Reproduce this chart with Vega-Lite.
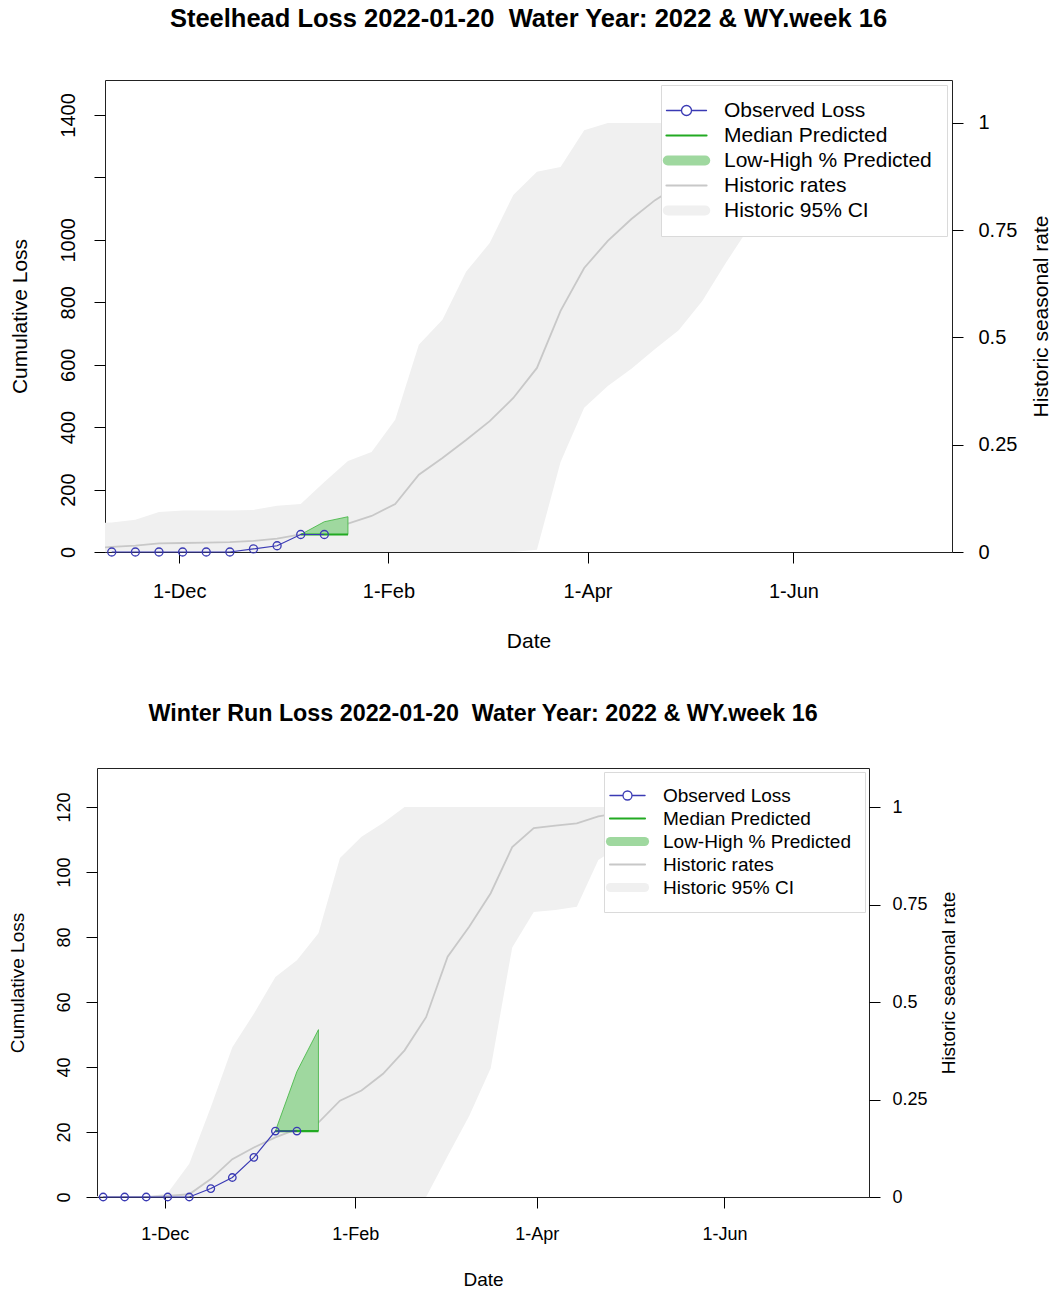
{
  "$schema": "https://vega.github.io/schema/vega-lite/v6.json",
  "padding": {"left": 1, "top": 6, "right": 0, "bottom": 0},
  "spacing": 49,
  "datasets": {
    "steel_obs": [
      {"date": "2021-11-11", "loss": 0}, {"date": "2021-11-18", "loss": 0}, {"date": "2021-11-25", "loss": 0},
      {"date": "2021-12-02", "loss": 0}, {"date": "2021-12-09", "loss": 0}, {"date": "2021-12-16", "loss": 0},
      {"date": "2021-12-23", "loss": 10}, {"date": "2021-12-30", "loss": 20}, {"date": "2022-01-06", "loss": 56},
      {"date": "2022-01-13", "loss": 56}
    ],
    "steel_pred": [
      {"date": "2022-01-06", "median": 56, "low": 56, "high": 56},
      {"date": "2022-01-13", "median": 56, "low": 56, "high": 97},
      {"date": "2022-01-20", "median": 56, "low": 56, "high": 113}
    ],
    "steel_hist": [
      {"date": "2021-11-04", "rate": 0.008, "lo": 0, "hi": 0.066},
      {"date": "2021-11-11", "rate": 0.012, "lo": 0, "hi": 0.069},
      {"date": "2021-11-18", "rate": 0.015, "lo": 0, "hi": 0.075},
      {"date": "2021-11-25", "rate": 0.02, "lo": 0, "hi": 0.093},
      {"date": "2021-12-02", "rate": 0.021, "lo": 0, "hi": 0.097},
      {"date": "2021-12-09", "rate": 0.022, "lo": 0, "hi": 0.097},
      {"date": "2021-12-16", "rate": 0.023, "lo": 0, "hi": 0.097},
      {"date": "2021-12-23", "rate": 0.026, "lo": 0, "hi": 0.098},
      {"date": "2021-12-30", "rate": 0.031, "lo": 0, "hi": 0.108},
      {"date": "2022-01-06", "rate": 0.041, "lo": 0, "hi": 0.112},
      {"date": "2022-01-13", "rate": 0.055, "lo": 0, "hi": 0.163},
      {"date": "2022-01-20", "rate": 0.066, "lo": 0, "hi": 0.212},
      {"date": "2022-01-27", "rate": 0.084, "lo": 0, "hi": 0.233},
      {"date": "2022-02-03", "rate": 0.112, "lo": 0, "hi": 0.308},
      {"date": "2022-02-10", "rate": 0.18, "lo": 0, "hi": 0.483},
      {"date": "2022-02-17", "rate": 0.219, "lo": 0, "hi": 0.541},
      {"date": "2022-02-24", "rate": 0.261, "lo": 0, "hi": 0.653},
      {"date": "2022-03-03", "rate": 0.305, "lo": 0, "hi": 0.72},
      {"date": "2022-03-10", "rate": 0.359, "lo": 0, "hi": 0.832},
      {"date": "2022-03-17", "rate": 0.429, "lo": 0.005, "hi": 0.886},
      {"date": "2022-03-24", "rate": 0.562, "lo": 0.21, "hi": 0.897},
      {"date": "2022-03-31", "rate": 0.662, "lo": 0.336, "hi": 0.983},
      {"date": "2022-04-07", "rate": 0.725, "lo": 0.387, "hi": 1},
      {"date": "2022-04-14", "rate": 0.776, "lo": 0.427, "hi": 1},
      {"date": "2022-04-21", "rate": 0.82, "lo": 0.473, "hi": 1},
      {"date": "2022-04-28", "rate": 0.855, "lo": 0.517, "hi": 1},
      {"date": "2022-05-05", "rate": 0.885, "lo": 0.585, "hi": 1},
      {"date": "2022-05-12", "rate": 0.91, "lo": 0.674, "hi": 1},
      {"date": "2022-05-19", "rate": 0.93, "lo": 0.758, "hi": 1},
      {"date": "2022-05-26", "rate": 0.95, "lo": 0.82, "hi": 1},
      {"date": "2022-06-02", "rate": 0.965, "lo": 0.87, "hi": 1},
      {"date": "2022-06-09", "rate": 0.975, "lo": 0.91, "hi": 1},
      {"date": "2022-06-16", "rate": 0.985, "lo": 0.94, "hi": 1},
      {"date": "2022-06-23", "rate": 0.99, "lo": 0.96, "hi": 1},
      {"date": "2022-06-30", "rate": 0.995, "lo": 0.98, "hi": 1},
      {"date": "2022-07-07", "rate": 1, "lo": 0.99, "hi": 1},
      {"date": "2022-07-14", "rate": 1, "lo": 1, "hi": 1}
    ],
    "wr_obs": [
      {"date": "2021-11-11", "loss": 0}, {"date": "2021-11-18", "loss": 0}, {"date": "2021-11-25", "loss": 0},
      {"date": "2021-12-02", "loss": 0}, {"date": "2021-12-09", "loss": 0}, {"date": "2021-12-16", "loss": 2.6},
      {"date": "2021-12-23", "loss": 6}, {"date": "2021-12-30", "loss": 12.2}, {"date": "2022-01-06", "loss": 20.3},
      {"date": "2022-01-13", "loss": 20.3}
    ],
    "wr_pred": [
      {"date": "2022-01-06", "median": 20.3, "low": 20.3, "high": 20.3},
      {"date": "2022-01-13", "median": 20.3, "low": 20.3, "high": 38.6},
      {"date": "2022-01-20", "median": 20.3, "low": 20.3, "high": 51.5}
    ],
    "wr_hist": [
      {"date": "2021-11-04", "rate": 0, "lo": 0, "hi": 0},
      {"date": "2021-11-11", "rate": 0, "lo": 0, "hi": 0},
      {"date": "2021-11-18", "rate": 0, "lo": 0, "hi": 0},
      {"date": "2021-11-25", "rate": 0, "lo": 0, "hi": 0},
      {"date": "2021-12-02", "rate": 0.003, "lo": 0, "hi": 0.01},
      {"date": "2021-12-09", "rate": 0.007, "lo": 0, "hi": 0.085},
      {"date": "2021-12-16", "rate": 0.046, "lo": 0, "hi": 0.23},
      {"date": "2021-12-23", "rate": 0.097, "lo": 0, "hi": 0.384},
      {"date": "2021-12-30", "rate": 0.127, "lo": 0, "hi": 0.47},
      {"date": "2022-01-06", "rate": 0.153, "lo": 0, "hi": 0.564},
      {"date": "2022-01-13", "rate": 0.174, "lo": 0, "hi": 0.607},
      {"date": "2022-01-20", "rate": 0.191, "lo": 0, "hi": 0.676},
      {"date": "2022-01-27", "rate": 0.247, "lo": 0, "hi": 0.869},
      {"date": "2022-02-03", "rate": 0.273, "lo": 0, "hi": 0.924},
      {"date": "2022-02-10", "rate": 0.316, "lo": 0, "hi": 0.959},
      {"date": "2022-02-17", "rate": 0.376, "lo": 0, "hi": 1},
      {"date": "2022-02-24", "rate": 0.461, "lo": 0, "hi": 1},
      {"date": "2022-03-03", "rate": 0.616, "lo": 0.105, "hi": 1},
      {"date": "2022-03-10", "rate": 0.693, "lo": 0.208, "hi": 1},
      {"date": "2022-03-17", "rate": 0.779, "lo": 0.33, "hi": 1},
      {"date": "2022-03-24", "rate": 0.897, "lo": 0.64, "hi": 1},
      {"date": "2022-03-31", "rate": 0.946, "lo": 0.731, "hi": 1},
      {"date": "2022-04-07", "rate": 0.952, "lo": 0.736, "hi": 1},
      {"date": "2022-04-14", "rate": 0.958, "lo": 0.744, "hi": 1},
      {"date": "2022-04-21", "rate": 0.976, "lo": 0.864, "hi": 1},
      {"date": "2022-04-28", "rate": 0.985, "lo": 0.9, "hi": 1},
      {"date": "2022-05-05", "rate": 0.99, "lo": 0.93, "hi": 1},
      {"date": "2022-05-12", "rate": 0.995, "lo": 0.95, "hi": 1},
      {"date": "2022-05-19", "rate": 1, "lo": 0.97, "hi": 1},
      {"date": "2022-05-26", "rate": 1, "lo": 0.98, "hi": 1},
      {"date": "2022-06-02", "rate": 1, "lo": 0.99, "hi": 1},
      {"date": "2022-06-09", "rate": 1, "lo": 1, "hi": 1},
      {"date": "2022-06-16", "rate": 1, "lo": 1, "hi": 1},
      {"date": "2022-06-23", "rate": 1, "lo": 1, "hi": 1},
      {"date": "2022-06-30", "rate": 1, "lo": 1, "hi": 1},
      {"date": "2022-07-07", "rate": 1, "lo": 1, "hi": 1},
      {"date": "2022-07-14", "rate": 1, "lo": 1, "hi": 1}
    ],
    "spacer": [{"v": 0}]
  },
  "vconcat": [
    {
      "spacing": 0,
      "resolve": {"scale": {"color": "independent"}, "legend": {"color": "independent"}},
      "hconcat": [
        {"width": 1, "height": 1, "view": {"stroke": null}, "data": {"name": "spacer"}, "mark": {"type": "point", "opacity": 0}, "encoding": {}},
        {
          "title": {"text": "Steelhead Loss 2022-01-20\u00a0 Water Year: 2022 & WY.week 16", "fontSize": 25.5, "offset": 48},
          "width": 847,
          "height": 472,
          "encoding": {
            "x": {
              "field": "date", "type": "temporal",
              "scale": {"type": "utc", "domain": [{"year": 2021, "month": 11, "date": 9, "utc": true}, {"year": 2022, "month": 7, "date": 18, "utc": true}]},
              "axis": {
                "title": "Date", "format": "%-d-%b",
                "values": [{"year": 2021, "month": 12, "date": 1, "utc": true}, {"year": 2022, "month": 2, "date": 1, "utc": true}, {"year": 2022, "month": 4, "date": 1, "utc": true}, {"year": 2022, "month": 6, "date": 1, "utc": true}],
                "labelFontSize": 20, "titleFontSize": 21, "labelPadding": 18, "titlePadding": 29, "labelFlush": false
              }
            }
          },
          "layer": [
            {
              "data": {"name": "steel_hist"},
              "layer": [
                {
                  "mark": {"type": "area", "clip": true},
                  "encoding": {
                    "y": {"field": "lo", "type": "quantitative", "scale": {"domain": [0, 1.1], "nice": false, "zero": false},
                      "axis": {"orient": "right", "title": "Historic seasonal rate", "values": [0, 0.25, 0.5, 0.75, 1], "format": "~g",
                        "labelAngle": 0, "labelAlign": "left", "labelBaseline": "middle", "labelFontSize": 20, "labelPadding": 15,
                        "titleAngle": 270, "titleBaseline": "top", "titleFontSize": 21, "titlePadding": 14}},
                    "y2": {"field": "hi"},
                    "color": {
                      "datum": "Historic 95% CI",
                      "scale": {"domain": ["Observed Loss", "Median Predicted", "Low-High % Predicted", "Historic rates", "Historic 95% CI"], "range": ["#3a3ab4", "#22aa22", "#9fd89f", "#c8c8c8", "#f0f0f0"]},
                      "legend": {
                        "title": null, "orient": "top-right", "offset": 5, "padding": 15,
                        "fillColor": "white", "strokeColor": "#dadada", "labelLimit": 0,
                        "labelFontSize": 21, "labelOffset": 27, "symbolOffset": 0, "rowPadding": 3, "symbolSize": 100,
                        "encode": {"symbols": {"update": {
                          "shape": {"signal": "datum.value === 'Observed Loss' ? 'M-4,0H-1M1,0H4M-1,0A1,1 0 1,0 1,0A1,1 0 1,0 -1,0' : (datum.value === 'Low-High % Predicted' || datum.value === 'Historic 95% CI') ? 'M-3.74,0H3.74' : 'M-4,0H4'"},
                          "strokeWidth": {"signal": "(datum.value === 'Low-High % Predicted' || datum.value === 'Historic 95% CI') ? 10 : datum.value === 'Observed Loss' ? 1.3 : 2.2"},
                          "strokeCap": {"value": "round"},
                          "strokeJoin": {"value": "round"},
                          "fillOpacity": {"value": 0},
                          "size": {"value": 100}
                        }}}
                      }
                    }
                  }
                },
                {
                  "mark": {"type": "line", "clip": true, "strokeWidth": 1.8},
                  "encoding": {
                    "y": {"field": "rate", "type": "quantitative"},
                    "color": {"datum": "Historic rates"}
                  }
                }
              ]
            },
            {
              "layer": [
                {
                  "data": {"name": "steel_pred"},
                  "mark": {"type": "area", "stroke": "#3cb43c", "strokeWidth": 0.8},
                  "encoding": {
                    "y": {"field": "low", "type": "quantitative", "scale": {"domain": [0, 1512], "nice": false, "zero": false},
                      "axis": {"orient": "left", "title": "Cumulative Loss", "values": [0, 200, 400, 600, 800, 1000, 1200, 1400], "format": "d",
                        "labelExpr": "datum.value == 1200 ? '' : datum.label",
                        "labelAngle": 270, "labelAlign": "center", "labelBaseline": "alphabetic", "labelFontSize": 20, "labelPadding": 20,
                        "titleFontSize": 21, "titlePadding": 28}},
                    "y2": {"field": "high"},
                    "color": {"datum": "Low-High % Predicted"}
                  }
                },
                {
                  "data": {"name": "steel_pred"},
                  "mark": {"type": "line", "strokeWidth": 2.2},
                  "encoding": {
                    "y": {"field": "median", "type": "quantitative"},
                    "color": {"datum": "Median Predicted"}
                  }
                },
                {
                  "data": {"name": "steel_obs"},
                  "mark": {"type": "line", "strokeWidth": 1.2, "point": {"filled": false, "size": 64, "strokeWidth": 1.3}},
                  "encoding": {
                    "y": {"field": "loss", "type": "quantitative"},
                    "color": {"datum": "Observed Loss"}
                  }
                }
              ]
            }
          ],
          "resolve": {"scale": {"y": "independent"}}
        }
      ]
    },
    {
      "spacing": -1,
      "resolve": {"scale": {"color": "independent"}, "legend": {"color": "independent"}},
      "hconcat": [
        {"width": 1, "height": 1, "view": {"stroke": null}, "data": {"name": "spacer"}, "mark": {"type": "point", "opacity": 0}, "encoding": {}},
        {
          "title": {"text": "Winter Run Loss 2022-01-20\u00a0 Water Year: 2022 & WY.week 16", "fontSize": 23.3, "offset": 42},
          "width": 772,
          "height": 429,
          "encoding": {
            "x": {
              "field": "date", "type": "temporal",
              "scale": {"type": "utc", "domain": [{"year": 2021, "month": 11, "date": 9, "utc": true}, {"year": 2022, "month": 7, "date": 18, "utc": true}]},
              "axis": {
                "title": "Date", "format": "%-d-%b",
                "values": [{"year": 2021, "month": 12, "date": 1, "utc": true}, {"year": 2022, "month": 2, "date": 1, "utc": true}, {"year": 2022, "month": 4, "date": 1, "utc": true}, {"year": 2022, "month": 6, "date": 1, "utc": true}],
                "labelFontSize": 18, "titleFontSize": 19, "labelPadding": 17, "titlePadding": 27, "labelFlush": false
              }
            }
          },
          "layer": [
            {
              "data": {"name": "wr_hist"},
              "layer": [
                {
                  "mark": {"type": "area", "clip": true},
                  "encoding": {
                    "y": {"field": "lo", "type": "quantitative", "scale": {"domain": [0, 1.1], "nice": false, "zero": false},
                      "axis": {"orient": "right", "title": "Historic seasonal rate", "values": [0, 0.25, 0.5, 0.75, 1], "format": "~g",
                        "labelAngle": 0, "labelAlign": "left", "labelBaseline": "middle", "labelFontSize": 18, "labelPadding": 12,
                        "titleAngle": 270, "titleBaseline": "top", "titleFontSize": 19, "titlePadding": 12}},
                    "y2": {"field": "hi"},
                    "color": {
                      "datum": "Historic 95% CI",
                      "scale": {"domain": ["Observed Loss", "Median Predicted", "Low-High % Predicted", "Historic rates", "Historic 95% CI"], "range": ["#3a3ab4", "#22aa22", "#9fd89f", "#c8c8c8", "#f0f0f0"]},
                      "legend": {
                        "title": null, "orient": "top-right", "offset": 4, "padding": 14,
                        "fillColor": "white", "strokeColor": "#dadada", "labelLimit": 0,
                        "labelFontSize": 19, "labelOffset": 26, "symbolOffset": 0, "rowPadding": 3, "symbolSize": 81,
                        "encode": {"symbols": {"update": {
                          "shape": {"signal": "datum.value === 'Observed Loss' ? 'M-3.9,0H-1M1,0H3.9M-1,0A1,1 0 1,0 1,0A1,1 0 1,0 -1,0' : (datum.value === 'Low-High % Predicted' || datum.value === 'Historic 95% CI') ? 'M-3.8,0H3.8' : 'M-3.9,0H3.9'"},
                          "strokeWidth": {"signal": "(datum.value === 'Low-High % Predicted' || datum.value === 'Historic 95% CI') ? 9 : datum.value === 'Observed Loss' ? 1.3 : 2"},
                          "strokeCap": {"value": "round"},
                          "strokeJoin": {"value": "round"},
                          "fillOpacity": {"value": 0},
                          "size": {"value": 81}
                        }}}
                      }
                    }
                  }
                },
                {
                  "mark": {"type": "line", "clip": true, "strokeWidth": 1.8},
                  "encoding": {
                    "y": {"field": "rate", "type": "quantitative"},
                    "color": {"datum": "Historic rates"}
                  }
                }
              ]
            },
            {
              "layer": [
                {
                  "data": {"name": "wr_pred"},
                  "mark": {"type": "area", "stroke": "#3cb43c", "strokeWidth": 0.8},
                  "encoding": {
                    "y": {"field": "low", "type": "quantitative", "scale": {"domain": [0, 132], "nice": false, "zero": false},
                      "axis": {"orient": "left", "title": "Cumulative Loss", "values": [0, 20, 40, 60, 80, 100, 120],
                        "labelAngle": 270, "labelAlign": "center", "labelBaseline": "alphabetic", "labelFontSize": 18, "labelPadding": 17,
                        "titleFontSize": 19, "titlePadding": 28}},
                    "y2": {"field": "high"},
                    "color": {"datum": "Low-High % Predicted"}
                  }
                },
                {
                  "data": {"name": "wr_pred"},
                  "mark": {"type": "line", "strokeWidth": 2.2},
                  "encoding": {
                    "y": {"field": "median", "type": "quantitative"},
                    "color": {"datum": "Median Predicted"}
                  }
                },
                {
                  "data": {"name": "wr_obs"},
                  "mark": {"type": "line", "strokeWidth": 1.2, "point": {"filled": false, "size": 56, "strokeWidth": 1.3}},
                  "encoding": {
                    "y": {"field": "loss", "type": "quantitative"},
                    "color": {"datum": "Observed Loss"}
                  }
                }
              ]
            }
          ],
          "resolve": {"scale": {"y": "independent"}}
        }
      ]
    }
  ],
  "resolve": {"scale": {"color": "independent"}, "legend": {"color": "independent"}},
  "config": {
    "font": "Liberation Sans",
    "view": {"stroke": "#222222", "strokeWidth": 1},
    "axis": {"domain": false, "grid": false, "tickColor": "#000000", "tickSize": 11, "labelColor": "#000000", "titleColor": "#000000", "labelFont": "Liberation Sans", "titleFont": "Liberation Sans", "titleFontWeight": "normal", "labelOverlap": false},
    "legend": {"labelFont": "Liberation Sans", "labelColor": "#000000"},
    "title": {"font": "Liberation Sans", "fontWeight": "bold", "color": "#000000", "anchor": "middle"}
  }
}
